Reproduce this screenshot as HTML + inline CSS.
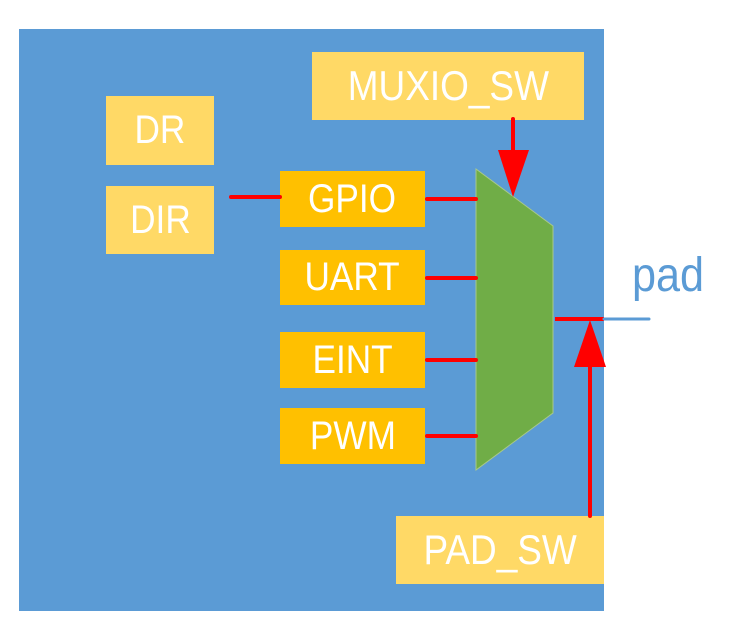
<!DOCTYPE html>
<html><head><meta charset="utf-8"><style>
body{margin:0;width:736px;height:619px;background:#fff;position:relative;overflow:hidden;font-family:"Liberation Sans",sans-serif}
.b{position:absolute;display:flex;align-items:center;justify-content:center;color:#fff;font-size:40px}
.b span{display:inline-block;transform:scaleX(0.88)}
.ly{background:#ffd966}
.or{background:#ffc000}
</style></head><body>
<div style="position:absolute;left:19px;top:29px;width:585px;height:582px;background:#5b9bd5"></div>
<div class="b ly" style="left:312px;top:52px;width:272px;height:68px;font-size:42px"><span>MUXIO_SW</span></div>
<div class="b ly" style="left:106px;top:96px;width:108px;height:69px"><span>DR</span></div>
<div class="b ly" style="left:106px;top:186px;width:108px;height:68px"><span>DIR</span></div>
<div class="b or" style="left:280px;top:171px;width:145px;height:56px"><span>GPIO</span></div>
<div class="b or" style="left:280px;top:250px;width:145px;height:55px"><span>UART</span></div>
<div class="b or" style="left:280px;top:332px;width:145px;height:56px"><span>EINT</span></div>
<div class="b or" style="left:280px;top:408px;width:145px;height:56px"><span>PWM</span></div>
<div class="b ly" style="left:396px;top:516px;width:208px;height:68px;font-size:42px"><span>PAD_SW</span></div>
<div style="position:absolute;left:632px;top:248px;font-size:48px;color:#5b9bd5;transform:scaleX(0.9);transform-origin:left">pad</div>
<svg width="736" height="619" style="position:absolute;left:0;top:0">
<polygon points="476,169 553,226 553,413 476,470" fill="#70ad47" stroke="#a9c98a" stroke-width="1"/>
<g stroke="#f00" stroke-width="4" stroke-linecap="round">
<line x1="231" y1="197" x2="280" y2="197"/>
<line x1="427" y1="199" x2="476" y2="199"/>
<line x1="427" y1="278" x2="476" y2="278"/>
<line x1="427" y1="360" x2="476" y2="360"/>
<line x1="427" y1="436" x2="476" y2="436"/>
<line x1="513" y1="119" x2="513" y2="152"/>
<line x1="590" y1="365" x2="590" y2="516"/>
<line x1="555" y1="319" x2="604" y2="319" stroke-linecap="butt"/>
</g>
<line x1="604" y1="319" x2="649" y2="319" stroke="#5b9bd5" stroke-width="3" stroke-linecap="round"/>
<polygon points="498,150 529,150 513,197" fill="#f00"/>
<polygon points="574,367 606,367 590,320" fill="#f00"/>
</svg>
</body></html>
